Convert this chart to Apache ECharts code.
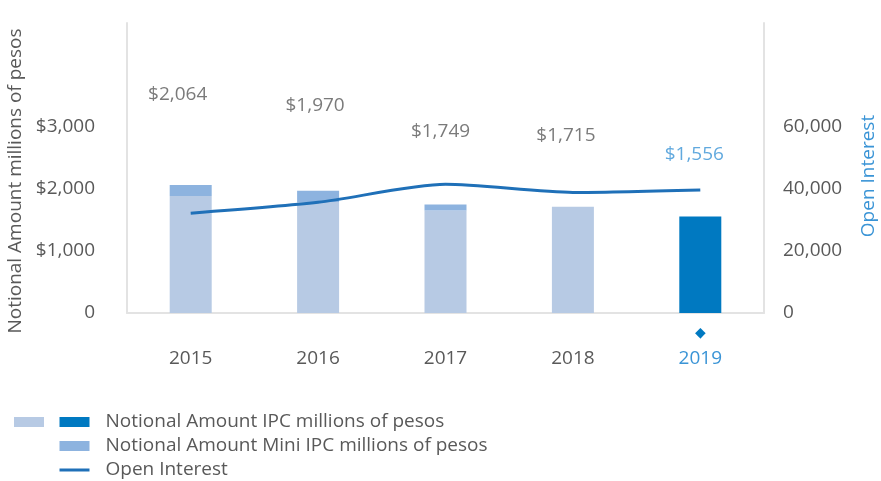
<!DOCTYPE html>
<html>
<head>
<meta charset="utf-8">
<script src="https://cdn.jsdelivr.net/npm/echarts@6/dist/echarts.min.js"></script>
<style>
  html, body { margin: 0; padding: 0; background: #fff; }
  #chart { width: 881px; height: 481px; }
</style>
</head>
<body>
<div id="chart"></div>
<script>
// data
var years = ['2015', '2016', '2017', '2018', '2019'];
var ipc = [1887, 1792, 1652, 1715, 1556];
var miniIpc = [177, 178, 97, 0, 0];
var totals = [2064, 1970, 1749, 1715, 1556];
var openInterest = [32200, 35700, 41500, 38900, 39700];
var leftTicks = [0, 1000, 2000, 3000];
var rightTicks = [0, 20000, 40000, 60000];

// the total labels sit a little left of their bars in the original
var labelNudge = [-13, -3, -5, -7, -6];

var grey = '#595959';
var lightBar = '#b7cae4';
var darkBar = '#0079c1';
var miniColor = '#8db3df';
var lineColor = '#1f70b8';
var hiBlue = '#3a94d6';
var frame = '#e3e3e3';
var font = '"Open Sans", sans-serif';

function money(v) {
    return '$' + v.toLocaleString('en-US');
}

var chart = echarts.init(document.getElementById('chart'));
chart.setOption({
    animation: false,
    textStyle: { fontFamily: font },
    grid: { left: 127, right: 117, top: 23, bottom: 168, outerBoundsMode: 'none' },
    legend: {
        orient: 'vertical',
        left: 58,
        top: 412,
        height: 80,
        padding: 0,
        itemWidth: 30,
        itemHeight: 10,
        itemGap: 4,
        textStyle: { fontSize: 19, color: grey, lineHeight: 20, padding: [0, 0, 0, 11] },
        data: [
            { name: 'Notional Amount IPC millions of pesos', icon: 'rect', itemStyle: { color: darkBar } },
            { name: 'Notional Amount Mini IPC millions of pesos', icon: 'rect' },
            { name: 'Open Interest', itemStyle: { opacity: 0 }, lineStyle: { width: 3, color: lineColor } }
        ]
    },
    graphic: [{
        type: 'rect',
        left: 14,
        top: 417,
        shape: { width: 30, height: 10 },
        style: { fill: lightBar }
    }],
    xAxis: {
        type: 'category',
        data: years,
        axisLine: { lineStyle: { color: frame, width: 2 } },
        axisTick: { show: false },
        axisLabel: {
            margin: 8,
            formatter: function (v) {
                return v === '2019' ? '{d|◆}\n{y2|' + v + '}' : '{d| }\n{y|' + v + '}';
            },
            rich: {
                d: { fontSize: 14, lineHeight: 25, color: darkBar },
                y: { fontSize: 19, lineHeight: 25, color: grey },
                y2: { fontSize: 19, lineHeight: 25, color: hiBlue }
            }
        }
    },
    yAxis: [{
        type: 'value',
        min: 0,
        max: 4677,
        interval: 1000,
        name: 'Notional Amount millions of pesos',
        nameLocation: 'middle',
        nameGap: 100,
        nameTextStyle: { fontSize: 19, color: grey, padding: [0, 26, 0, 0] },
        axisLine: { show: true, lineStyle: { color: frame, width: 2 } },
        axisTick: { show: false },
        splitLine: { show: false },
        axisLabel: {
            margin: 32,
            fontSize: 19,
            color: grey,
            formatter: function (v) {
                if (leftTicks.indexOf(v) < 0) return '';
                return v === 0 ? '0' : money(v);
            }
        }
    }, {
        type: 'value',
        min: 0,
        max: 93540,
        interval: 20000,
        name: 'Open Interest',
        nameLocation: 'middle',
        nameGap: 95,
        nameTextStyle: { fontSize: 19, color: hiBlue, padding: [0, 16, 0, 0] },
        axisLine: { show: true, lineStyle: { color: frame, width: 2 } },
        axisTick: { show: false },
        splitLine: { show: false },
        axisLabel: {
            margin: 19,
            fontSize: 19,
            color: grey,
            formatter: function (v) {
                if (rightTicks.indexOf(v) < 0) return '';
                return v.toLocaleString('en-US');
            }
        }
    }, {
        type: 'value',
        min: 202,
        max: 2679,
        show: false
    }],
    series: [{
        name: 'Notional Amount IPC millions of pesos',
        type: 'bar',
        stack: 'notional',
        barWidth: 42,
        itemStyle: { color: lightBar },
        data: ipc.map(function (v, i) {
            return years[i] === '2019' ? { value: v, itemStyle: { color: darkBar } } : v;
        })
    }, {
        name: 'Notional Amount Mini IPC millions of pesos',
        type: 'bar',
        stack: 'notional',
        barWidth: 42,
        itemStyle: { color: miniColor },
        data: miniIpc
    }, {
        name: 'Open Interest',
        type: 'line',
        yAxisIndex: 1,
        smooth: 0.25,
        symbol: 'none',
        lineStyle: { color: lineColor, width: 3 },
        itemStyle: { color: lineColor },
        data: openInterest
    }, {
        name: 'totals',
        type: 'scatter',
        yAxisIndex: 2,
        symbolSize: 1,
        itemStyle: { color: 'transparent' },
        silent: true,
        label: {
            show: true,
            position: 'inside',
            fontSize: 19,
            color: grey,
            formatter: function (p) { return money(p.value); }
        },
        data: totals.map(function (v, i) {
            var lab = { offset: [labelNudge[i], 0] };
            if (years[i] === '2019') lab.color = hiBlue;
            return { value: v, label: lab };
        })
    }]
});
</script>
</body>
</html>
